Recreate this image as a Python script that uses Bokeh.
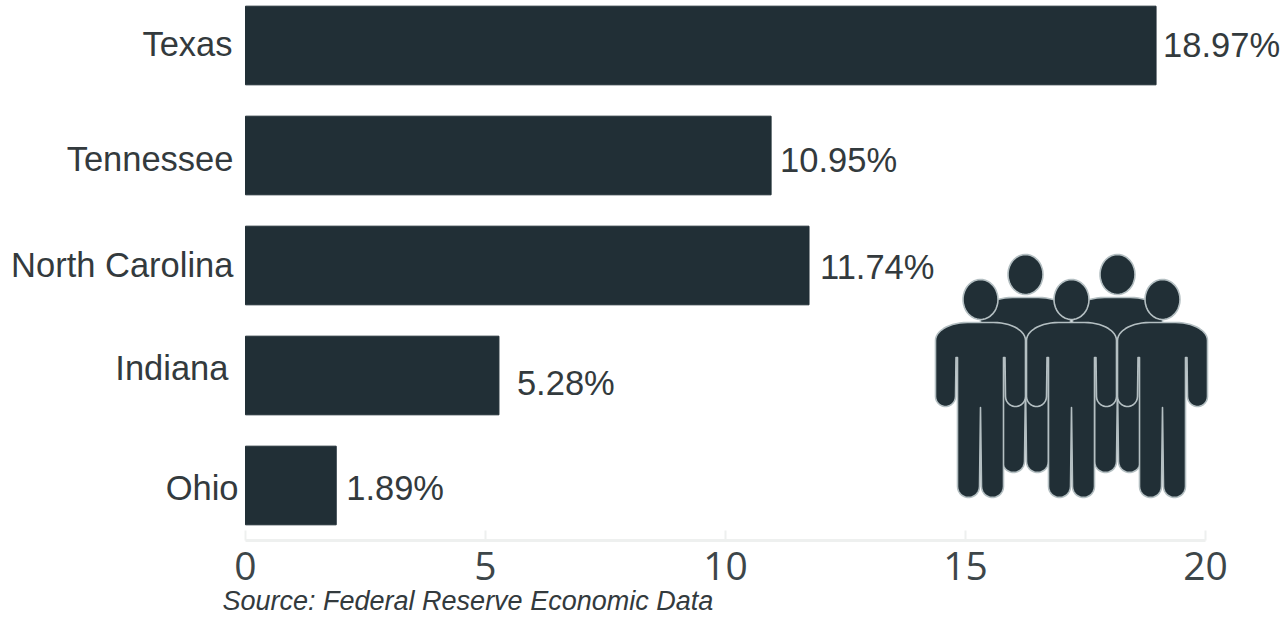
import numpy as np
from bokeh.core.properties import value
from bokeh.embed import file_html
from bokeh.models import ColumnDataSource, FixedTicker, Label, LabelSet, Range1d
from bokeh.plotting import figure
from bokeh.resources import INLINE

# Share by state, top row first
states = ["Texas", "Tennessee", "North Carolina", "Indiana", "Ohio"]
shares = [18.97, 10.95, 11.74, 5.28, 1.89]
value_labels = ["18.97%", "10.95%", "11.74%", "5.28%", "1.89%"]
x_ticks = [0, 5, 10, 15, 20]
source_note = "Source: Federal Reserve Economic Data"

# Hand-placed label nudges, in pixels
state_dx = [-13, -12, -12, -17, -7]
state_dy = [2, -3, 1, 8, -2]
value_dx = [7, 9, 11, 18, 10]
value_dy = [1, -4, -1, -7, -2]

DARK = "#212f36"
TEXT = "#333a3d"
LIGHT = "#eef0ef"
W, H = 1287, 617

# The plotting frame spans the whole canvas so that labels outside the value range stay visible
PX_PER_X = 48.0
PX_PER_ROW = 110.0
LEFT_PX = 245
AXIS_PX = 540
X_START = -LEFT_PX / PX_PER_X
X_END = X_START + W / PX_PER_X
Y_END = 4 + 45 / PX_PER_ROW
Y_START = Y_END - H / PX_PER_ROW
Y_AXIS = Y_END - AXIS_PX / PX_PER_ROW

p = figure(width=W, height=H, output_backend="svg", toolbar_location=None,
           x_range=Range1d(X_START, X_END), y_range=Range1d(Y_START, Y_END),
           min_border=0)
p.outline_line_color = None
p.grid.visible = False
p.yaxis.visible = False

ax = p.xaxis[0]
ax.fixed_location = Y_AXIS
ax.bounds = (x_ticks[0], x_ticks[-1])
ax.ticker = FixedTicker(ticks=x_ticks)
ax.axis_line_color = LIGHT
ax.axis_line_width = 3
ax.major_tick_line_color = LIGHT
ax.major_tick_line_width = 2
ax.major_tick_in = 10
ax.major_tick_out = 0
ax.minor_tick_line_color = None
ax.major_label_text_font = "Open Sans"
ax.major_label_text_font_size = "39px"
ax.major_label_text_color = "#3d4649"
ax.major_label_standoff = 11

rows = list(range(len(states) - 1, -1, -1))
src = ColumnDataSource(dict(y=rows, share=shares, state=states, value=value_labels,
                            zero=[0] * len(states),
                            sdx=state_dx, sdy=state_dy, vdx=value_dx, vdy=value_dy))
p.hbar(y="y", right="share", left=0, height=0.715, color=DARK, source=src)

p.add_layout(LabelSet(x="zero", y="y", text="state", source=src, x_offset="sdx", y_offset="sdy",
                      text_align="right", text_baseline="middle", text_color=TEXT,
                      text_font=value("Liberation Sans"), text_font_size="34.5px"))
p.add_layout(LabelSet(x="share", y="y", text="value", source=src, x_offset="vdx", y_offset="vdy",
                      text_align="left", text_baseline="middle", text_color=TEXT,
                      text_font=value("Liberation Sans"), text_font_size="34.5px"))
p.add_layout(Label(x=0, y=Y_AXIS, x_offset=-23, y_offset=-60, text=source_note,
                   text_font="Liberation Sans", text_font_style="italic",
                   text_font_size="27px", text_color=TEXT,
                   text_align="left", text_baseline="middle"))


# The crowd icon is laid out in canvas pixels, then converted to data space
def to_x(px):
    return np.asarray(px, float) / PX_PER_X + X_START


def to_y(py):
    return Y_END - np.asarray(py, float) / PX_PER_ROW


def arc(cx, cy, rx, ry, a0, a1, n=14):
    t = np.radians(np.linspace(a0, a1, n))
    return list(zip(cx + rx * np.cos(t), cy - ry * np.sin(t)))


def person(cx, s):
    """Silhouette with zero-width slits so the outline draws arm and leg separations."""
    pts = [(cx - 13, s)]
    pts += arc(cx - 13, s + 18, 32, 18, 90, 180)
    hand = s + 74
    pts += arc(cx - 35, hand, 10, 10, 180, 360)
    pts += [(cx - 24.5, s + 35), (cx - 23, s + 35)]
    bottom = s + 175 - 11
    pts += arc(cx - 12, bottom, 11, 11, 180, 360)
    pts += [(cx, s + 85)]
    pts += arc(cx + 12, bottom, 11, 11, 180, 360)
    pts += [(cx + 23, s + 35), (cx + 24.5, s + 35)]
    pts += arc(cx + 35, hand, 10, 10, 180, 360)
    pts += arc(cx + 13, s + 18, 32, 18, 0, 90)
    pts += [(cx + 13, s)]
    return pts


def head(cx, s):
    return arc(cx, s - 23, 17.5, 20, 0, 360, 40)


back_people = [(1025, 297), (1117, 297)]
front_people = [(980, 322), (1071, 322), (1162, 322)]
shapes = []
for cx, s in back_people + front_people:
    shapes.append(person(cx, s))
    shapes.append(head(cx, s))
xs = [to_x([a for a, _ in shape]) for shape in shapes]
ys = [to_y([b for _, b in shape]) for shape in shapes]
p.patches(xs, ys, fill_color=DARK, line_color="#b4bfc2", line_width=1.6, line_join="round")

open("out.html", "w").write(file_html(p, INLINE))
